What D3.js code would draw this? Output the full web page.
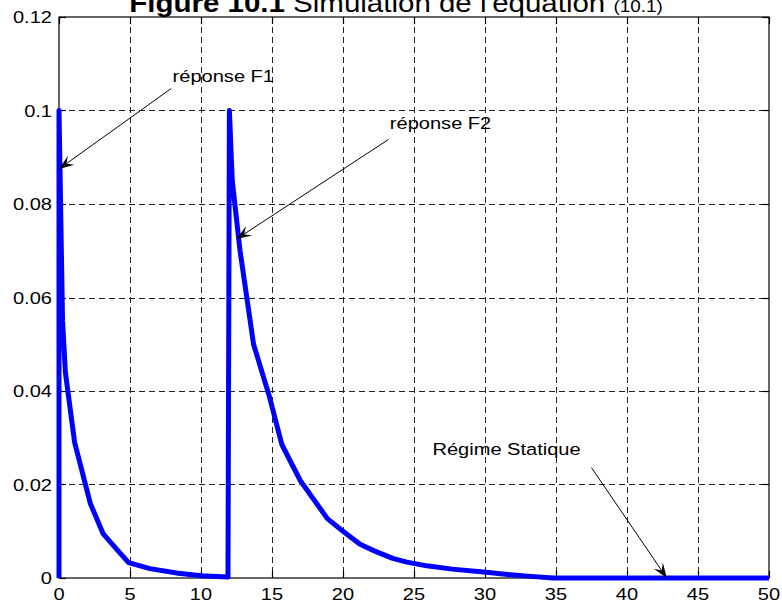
<!DOCTYPE html>
<html>
<head>
<meta charset="utf-8">
<script src="https://cdn.jsdelivr.net/npm/d3@7"></script>
<style>
  body { margin: 0; background: #fff; }
  svg text { font-family: "Liberation Sans", Arial, sans-serif; fill: #000; }
</style>
</head>
<body>
<svg id="chart" width="782" height="606"></svg>
<script>
var width = 782,
   height = 606,
   margin = { top: 17, right: 13, bottom: 28, left: 59 };

// temps (s) et réponse simulée
var temps = [0, 0, 0.25, 0.45, 1.1, 2.2, 3.1, 4.1, 4.9, 6.4, 8.4, 10, 11.9,
   12, 12.2, 12.75, 13.7, 14.8, 15.7, 17, 18.9, 20, 21.2, 22.2, 23.5, 24.5,
   25.9, 27.7, 29.9, 31.8, 33, 34.8, 50];
var reponse = [0, 0.1, 0.055, 0.044, 0.029, 0.016, 0.0095, 0.006, 0.0033,
   0.002, 0.001, 0.0005, 0.0002, 0.1, 0.085, 0.07, 0.05, 0.039, 0.0285,
   0.0208, 0.0127, 0.01, 0.0072, 0.0058, 0.0042, 0.0034, 0.0026, 0.0019,
   0.0013, 0.0007, 0.0004, 0, 0];

var xTicks = [0, 5, 10, 15, 20, 25, 30, 35, 40, 45, 50];
var yTicks = [0, 0.02, 0.04, 0.06, 0.08, 0.1, 0.12];
var yTickLabels = ["0", "0.02", "0.04", "0.06", "0.08", "0.1", "0.12"];

// annotations : texte, point du texte, pointe de la flèche (en données)
var annotations = [
   { label: "réponse F1", at: [8, 0.1061], from: [7.9, 0.1047], to: [0, 0.0875] },
   { label: "réponse F2", at: [23.3, 0.096], from: [23.2, 0.0938], to: [12.5, 0.0725] },
   { label: "Régime Statique", at: [26.3, 0.0264], from: [37.5, 0.0236], to: [42.8, 0] }
];

var sx = 1.18; // étirement horizontal du texte

var x = d3.scaleLinear().domain([0, 50]).range([margin.left, width - margin.right]);
var y = d3.scaleLinear().domain([0, 0.12]).range([height - margin.bottom, margin.top]);

var svg = d3.select("svg#chart");

function stretchedText(g, px, py, str, size, anchor) {
   return g.append("text")
      .attr("transform", "translate(" + px + "," + py + ") scale(" + sx + ",1)")
      .attr("text-anchor", anchor || "start")
      .style("font-size", size + "px")
      .text(str);
}

//Grille en pointillés
var grid = svg.append("g").attr("stroke", "#222").attr("stroke-width", 1)
   .attr("stroke-dasharray", "6,4");
grid.selectAll("line.gx")
   .data(xTicks.slice(1, -1))
   .enter().append("line")
   .attr("x1", (d) => Math.round(x(d)) + 0.5)
   .attr("x2", (d) => Math.round(x(d)) + 0.5)
   .attr("y1", y(0.12)).attr("y2", y(0));
grid.selectAll("line.gy")
   .data(yTicks.slice(1, -1))
   .enter().append("line")
   .attr("y1", (d) => Math.round(y(d)) + 0.5)
   .attr("y2", (d) => Math.round(y(d)) + 0.5)
   .attr("x1", x(0)).attr("x2", x(50));

//Cadre et graduations
var frame = svg.append("g").attr("stroke", "#000").attr("stroke-width", 1.2);
frame.append("rect")
   .attr("x", x(0)).attr("y", y(0.12))
   .attr("width", x(50) - x(0)).attr("height", y(0) - y(0.12))
   .attr("fill", "none");
var tk = 7;
xTicks.forEach(function (d) {
   var px = Math.round(x(d)) + 0.5;
   frame.append("line").attr("x1", px).attr("x2", px).attr("y1", y(0)).attr("y2", y(0) - tk);
   frame.append("line").attr("x1", px).attr("x2", px).attr("y1", y(0.12)).attr("y2", y(0.12) + tk);
});
yTicks.forEach(function (d) {
   var py = Math.round(y(d)) + 0.5;
   frame.append("line").attr("y1", py).attr("y2", py).attr("x1", x(0)).attr("x2", x(0) + tk);
   frame.append("line").attr("y1", py).attr("y2", py).attr("x1", x(50)).attr("x2", x(50) - tk);
});

//Étiquettes des axes
var labels = svg.append("g");
xTicks.forEach(function (d) {
   stretchedText(labels, x(d), 600, String(d), 17, "middle");
});
yTicks.forEach(function (d, i) {
   stretchedText(labels, x(0) - 7, y(d) + 6, yTickLabels[i], 17, "end");
});

//Courbe
var line = d3.line()
   .x((d, i) => x(temps[i]))
   .y((d) => y(d));
svg.append("path")
   .datum(reponse)
   .attr("fill", "none")
   .attr("stroke", "#0000ff")
   .attr("stroke-width", 5)
   .attr("stroke-linejoin", "round")
   .attr("d", line);

//Annotations avec flèches
var ann = svg.append("g");
annotations.forEach(function (a) {
   stretchedText(ann, x(a.at[0]), y(a.at[1]), a.label, 17, "start");
   var x1 = x(a.from[0]), y1 = y(a.from[1]), x2 = x(a.to[0]), y2 = y(a.to[1]);
   var ang = Math.atan2(y2 - y1, x2 - x1) * 180 / Math.PI;
   var L = 15, W = 5.5;
   var len = Math.hypot(x2 - x1, y2 - y1);
   ann.append("line")
      .attr("x1", x1).attr("y1", y1)
      .attr("x2", x1 + (x2 - x1) * (len - L * 0.6) / len)
      .attr("y2", y1 + (y2 - y1) * (len - L * 0.6) / len)
      .attr("stroke", "#000").attr("stroke-width", 1);
   ann.append("path")
      .attr("transform", "translate(" + x2 + "," + y2 + ") rotate(" + ang + ")")
      .attr("d", "M0,0 L" + (-L) + "," + (-W) + " L" + (-L * 0.6) + ",0 L" + (-L) + "," + W + "Z")
      .attr("fill", "#000");
});

//Titre (coupé en haut, comme dans l'original)
var title = svg.append("text")
   .attr("transform", "translate(396,12) scale(" + sx + ",1)")
   .attr("text-anchor", "middle")
   .style("font-size", "25px");
title.append("tspan").style("font-weight", "bold").text("Figure 10.1");
title.append("tspan").text(" Simulation de l'équation ");
title.append("tspan").style("font-size", "16px").text("(10.1)");
</script>
</body>
</html>
